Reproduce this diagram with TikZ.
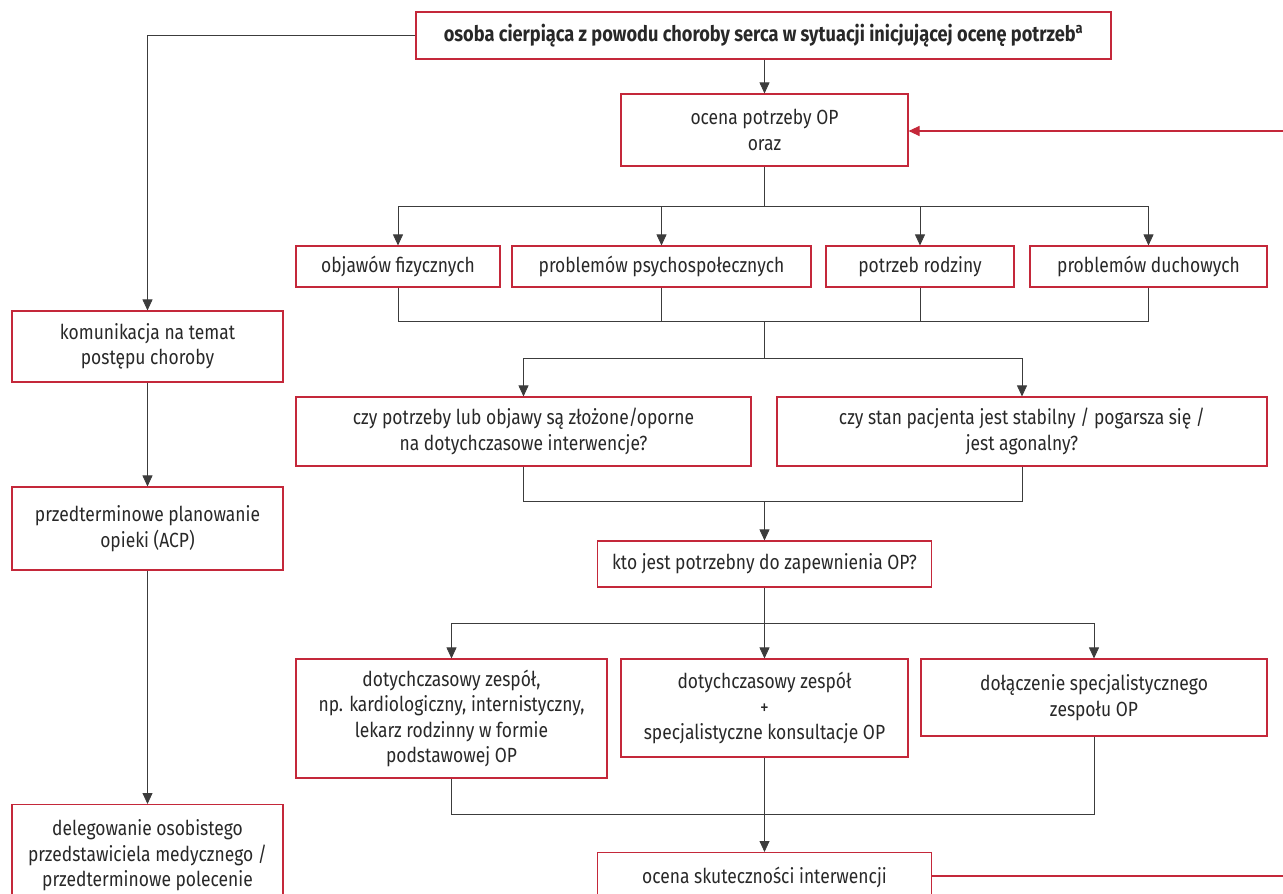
\documentclass[tikz,border=0pt]{standalone}
\usepackage{fontspec}
\setmainfont{Fira Sans}[FakeStretch=0.85]
\usetikzlibrary{arrows.meta}
\definecolor{opred}{RGB}{196,40,58}
\definecolor{optext}{RGB}{40,40,40}
\definecolor{opline}{RGB}{60,60,60}
\tikzset{
  opbox/.style={draw=opred,line width=1.1pt,inner sep=0pt,align=center,
    text=optext,fill=white,font=\fontsize{20.5}{25.5}\selectfont},
  conn/.style={draw=opline,line width=0.8pt},
  tip/.style={conn,-{Triangle[length=11pt,width=10pt]}},
  back/.style={draw=opred,line width=1.1pt},
}

\begin{document}
\begin{tikzpicture}[x=1pt,y=-1pt]
  \useasboundingbox (0,0) rectangle (1283,894);

  % top and the assessment
  \node (start) [opbox,minimum width=695pt,minimum height=47pt,
    font=\bfseries\fontsize{21.4}{25}\selectfont] at (763.5,35.5)
    {osoba cierpiąca z powodu choroby serca w sytuacji inicjującej ocenę potrzeb\textsuperscript{a}};
  \node (assess) [opbox,minimum width=287pt,minimum height=72pt] at (764.5,130)
    {ocena potrzeby OP\\oraz};

  % left column
  \node (comm) [opbox,minimum width=271pt,minimum height=71pt] at (147.5,346.5)
    {komunikacja na temat\\postępu choroby};
  \node (acp) [opbox,minimum width=271pt,minimum height=83pt] at (147.5,528.5)
    {przedterminowe planowanie\\opieki (ACP)};
  \node (deleg) [opbox,minimum width=271pt,minimum height=102pt,anchor=north] at (147.5,804)
    {delegowanie osobistego\\przedstawiciela medycznego /\\przedterminowe polecenie};

  % needs
  \node (fiz) [opbox,minimum width=204pt,minimum height=41pt] at (398,266.5) {objawów fizycznych};
  \node (psych) [opbox,minimum width=299pt,minimum height=41pt] at (661.5,266.5) {problemów psychospołecznych};
  \node (rodz) [opbox,minimum width=188pt,minimum height=41pt] at (920,266.5) {potrzeb rodziny};
  \node (duch) [opbox,minimum width=237pt,minimum height=41pt] at (1148.5,266.5) {problemów duchowych};

  % questions
  \node (zloz) [opbox,minimum width=455pt,minimum height=69pt] at (523.5,431.5)
    {czy potrzeby lub objawy są złożone/oporne\\na dotychczasowe interwencje?};
  \node (stan) [opbox,minimum width=490pt,minimum height=69pt] at (1022,431.5)
    {czy stan pacjenta jest stabilny / pogarsza się /\\jest agonalny?};
  \node (kto) [opbox,minimum width=334pt,minimum height=46pt] at (764.5,564)
    {kto jest potrzebny do zapewnienia OP?};

  % teams
  \node (zesp) [opbox,minimum width=311pt,minimum height=119pt] at (451.5,718.5)
    {dotychczasowy zespół,\\np. kardiologiczny, internistyczny,\\lekarz rodzinny w formie\\podstawowej OP};
  \node (konsult) [opbox,minimum width=287pt,minimum height=98pt] at (764.5,708)
    {dotychczasowy zespół\\+\\specjalistyczne konsultacje OP};
  \node (spec) [opbox,minimum width=346pt,minimum height=77pt] at (1094,697.5)
    {dołączenie specjalistycznego\\zespołu OP};
  \node (eval) [opbox,minimum width=334pt,minimum height=50pt,anchor=north] at (764.5,852)
    {ocena skuteczności interwencji};

  % connectors
  \draw[tip] (start.west) -| (comm.north);
  \draw[tip] (comm.south) -- (acp.north);
  \draw[tip] (acp.south) -- (deleg.north);
  \draw[tip] (assess.north |- start.south) -- (assess.north);

  \draw[conn] (assess.south) -- ++(0,40) coordinate (fork1);
  \foreach \n in {fiz,psych,rodz,duch}
    \draw[tip] (fork1) -| (\n.north);
  \coordinate (join1) at (764.5,321);
  \foreach \n in {fiz,psych,rodz,duch}
    \draw[conn] (\n.south) |- (join1);
  \coordinate (fork2) at (764.5,358);
  \draw[conn] (join1) -- (fork2);
  \foreach \n in {zloz,stan}
    \draw[tip] (fork2) -| (\n.north);
  \coordinate (join2) at (764.5,501);
  \foreach \n in {zloz,stan}
    \draw[conn] (\n.south) |- (join2);
  \draw[tip] (join2) -- (kto.north);

  \coordinate (fork3) at (764.5,623);
  \draw[conn] (kto.south) -- (fork3);
  \foreach \n in {zesp,konsult,spec}
    \draw[tip] (fork3) -| (\n.north);
  \coordinate (join3) at (764.5,814);
  \foreach \n in {zesp,spec}
    \draw[conn] (\n.south) |- (join3);
  \draw[tip] (konsult.south) -- (eval.north);

  % feedback loop
  \coordinate (redin) at (1283,131);
  \coordinate (redout) at (1283,876);
  \draw[back,-{Triangle[length=11pt,width=10pt]}] (redin) -- (assess.east |- redin);
  \draw[back] (eval.east |- redout) -- (redout);
\end{tikzpicture}
\end{document}
